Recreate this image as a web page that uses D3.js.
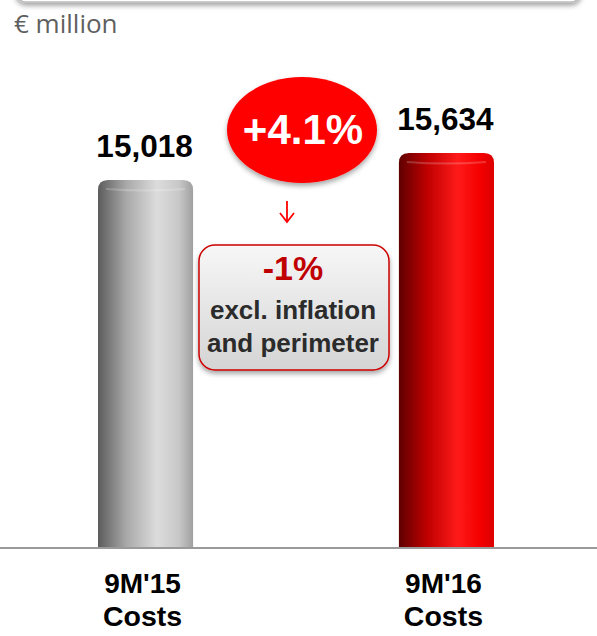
<!DOCTYPE html>
<html>
<head>
<meta charset="utf-8">
<script src="https://cdn.jsdelivr.net/npm/d3@7"></script>
<style>
  body { margin: 0; background: #fff; }
  svg { display: block; font-family: "Liberation Sans", Arial, sans-serif; }
</style>
</head>
<body>
<div id="chart"></div>
<script>
const categories = ["9M'15", "9M'16"];
const subLabels = ["Costs", "Costs"];
const values = [15018, 15634];
const valueLabels = ["15,018", "15,634"];
const changeLabel = "+4.1%";
const noteLines = ["-1%", "excl. inflation", "and perimeter"];
const unitLabel = "€ million";

const chartWidth = 597;
const chartHeight = 636;
const baseline = 547;

const svg = d3.select("#chart")
  .append("svg")
  .attr("width", chartWidth)
  .attr("height", chartHeight);

const defs = svg.append("defs");

// cylinder-like gradients
const addGradient = (id, stops) => {
  defs.append("linearGradient")
    .attr("id", id)
    .attr("x1", "0%").attr("y1", "0%")
    .attr("x2", "100%").attr("y2", "0%")
    .selectAll("stop")
    .data(stops)
    .enter()
    .append("stop")
    .attr("offset", (d) => d.offset)
    .attr("stop-color", (d) => d.color);
};

addGradient("gray-gradient", [
  { offset: "0%", color: "#5c5c5c" },
  { offset: "30%", color: "#a9a9a9" },
  { offset: "62%", color: "#dcdcdc" },
  { offset: "85%", color: "#c8c8c8" },
  { offset: "100%", color: "#a0a0a0" },
]);
addGradient("red-gradient", [
  { offset: "0%", color: "#5e0000" },
  { offset: "30%", color: "#c00000" },
  { offset: "62%", color: "#ff1a1a" },
  { offset: "85%", color: "#f40000" },
  { offset: "100%", color: "#dd0000" },
]);

defs.append("linearGradient")
  .attr("id", "box-gradient")
  .attr("x1", "0%").attr("y1", "0%")
  .attr("x2", "0%").attr("y2", "100%")
  .selectAll("stop")
  .data([
    { offset: "0%", color: "#f7f7f7" },
    { offset: "100%", color: "#d4d4d4" },
  ])
  .enter()
  .append("stop")
  .attr("offset", (d) => d.offset)
  .attr("stop-color", (d) => d.color);

const shadow = defs.append("filter")
  .attr("id", "shadow")
  .attr("x", "-20%").attr("y", "-20%")
  .attr("width", "140%").attr("height", "150%");
shadow.append("feDropShadow")
  .attr("dx", 0).attr("dy", 3)
  .attr("stdDeviation", 2.5)
  .attr("flood-color", "#000")
  .attr("flood-opacity", 0.35);

// top frame remnant
svg.append("rect")
  .attr("x", 16).attr("y", -30)
  .attr("width", 565).attr("height", 32)
  .attr("rx", 10)
  .attr("fill", "#fff")
  .attr("stroke", "#bdbdbd")
  .attr("stroke-width", 1.5)
  .attr("filter", "url(#shadow)");

svg.append("text")
  .attr("x", 14).attr("y", 33)
  .attr("font-size", 26)
  .attr("fill", "#5f5f5f")
  .style("font-family", "'Open Sans', 'Noto Sans', sans-serif")
  .text(unitLabel);

// scales
const x = d3.scaleBand()
  .domain(categories)
  .range([98, 494])
  .paddingInner(0.684)
  .paddingOuter(0);

const y = d3.scaleLinear()
  .domain([6650, 15634])
  .range([baseline, 153]);

const colors = ["url(#gray-gradient)", "url(#red-gradient)"];

const bars = svg.selectAll(".bar")
  .data(categories)
  .enter()
  .append("g")
  .attr("class", "bar");

const r = 10;
bars.append("path")
  .attr("d", (d, i) => {
    const x0 = x(d), x1 = x(d) + x.bandwidth();
    const top = y(values[i]);
    return `M${x0},${baseline} L${x0},${top + r} Q${x0},${top} ${x0 + r},${top}
      L${x1 - r},${top} Q${x1},${top} ${x1},${top + r} L${x1},${baseline} Z`;
  })
  .attr("fill", (d, i) => colors[i]);

// cap highlight
bars.append("path")
  .attr("d", (d, i) => {
    const x0 = x(d) + 8, x1 = x(d) + x.bandwidth() - 8;
    const top = y(values[i]) + 9;
    return `M${x0},${top} Q${(x0 + x1) / 2},${top + 3} ${x1},${top}`;
  })
  .attr("fill", "none")
  .attr("stroke", "#fff")
  .attr("stroke-opacity", 0.2)
  .attr("stroke-width", 2);

// value labels
bars.append("text")
  .attr("x", (d) => x(d) + x.bandwidth() / 2 - 1)
  .attr("y", (d, i) => y(values[i]) - 23)
  .attr("text-anchor", "middle")
  .attr("font-size", 31.5)
  .attr("font-weight", "bold")
  .attr("fill", "#000")
  .text((d, i) => valueLabels[i]);

// category labels
bars.append("text")
  .attr("x", (d) => x(d) + x.bandwidth() / 2 - 3)
  .attr("y", 593)
  .attr("text-anchor", "middle")
  .attr("font-size", 28)
  .attr("font-weight", "bold")
  .attr("fill", "#000")
  .text((d) => d);

bars.append("text")
  .attr("x", (d) => x(d) + x.bandwidth() / 2 - 3)
  .attr("y", 626)
  .attr("text-anchor", "middle")
  .attr("font-size", 28.5)
  .attr("font-weight", "bold")
  .attr("fill", "#000")
  .text((d, i) => subLabels[i]);

// baseline
svg.append("line")
  .attr("x1", 0).attr("x2", chartWidth)
  .attr("y1", baseline + 1).attr("y2", baseline + 1)
  .attr("stroke", "#9a9a9a")
  .attr("stroke-width", 2);

// change bubble
const midX = 302;
svg.append("ellipse")
  .attr("cx", midX).attr("cy", 130)
  .attr("rx", 75).attr("ry", 53)
  .attr("fill", "#ff0000")
  .attr("filter", "url(#shadow)");

svg.append("text")
  .attr("x", midX + 1).attr("y", 144)
  .attr("text-anchor", "middle")
  .attr("font-size", 42)
  .attr("font-weight", "bold")
  .attr("fill", "#fff")
  .text(changeLabel);

// arrow
const arrow = svg.append("g")
  .attr("stroke", "#ff0000")
  .attr("stroke-width", 1.8)
  .attr("fill", "none");
arrow.append("line")
  .attr("x1", 287).attr("x2", 287)
  .attr("y1", 201).attr("y2", 222);
arrow.append("path")
  .attr("d", "M280,213 L287,222 L294,213");

// note box
svg.append("rect")
  .attr("x", 199).attr("y", 245)
  .attr("width", 190).attr("height", 125)
  .attr("rx", 16)
  .attr("fill", "url(#box-gradient)")
  .attr("stroke", "#cc0000")
  .attr("stroke-width", 1.5)
  .attr("filter", "url(#shadow)");

svg.append("text")
  .attr("x", 293).attr("y", 280)
  .attr("text-anchor", "middle")
  .attr("font-size", 34)
  .attr("font-weight", "bold")
  .attr("fill", "#c00000")
  .text(noteLines[0]);

svg.selectAll(".note")
  .data(noteLines.slice(1))
  .enter()
  .append("text")
  .attr("class", "note")
  .attr("x", 293)
  .attr("y", (d, i) => 319 + i * 33)
  .attr("text-anchor", "middle")
  .attr("font-size", 26)
  .attr("font-weight", "bold")
  .attr("fill", "#2b2b2b")
  .text((d) => d);
</script>
</body>
</html>
